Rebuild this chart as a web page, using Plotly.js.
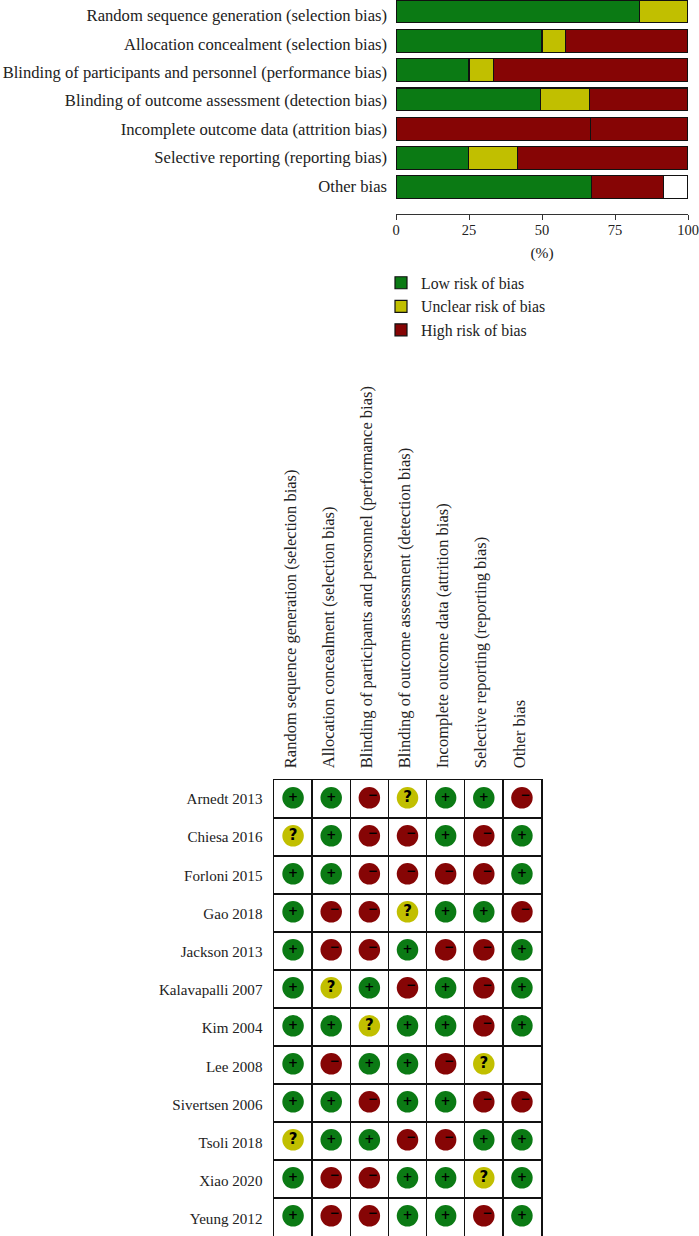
<!DOCTYPE html>
<html><head><meta charset="utf-8">
<script src="https://cdn.plot.ly/plotly-3.0.1.min.js"></script>
<style>html,body{margin:0;padding:0;background:#fff}</style></head>
<body><div id="chart" style="width:699px;height:1236px"></div>
<script>
const domains = ["Random sequence generation (selection bias)","Allocation concealment (selection bias)","Blinding of participants and personnel (performance bias)","Blinding of outcome assessment (detection bias)","Incomplete outcome data (attrition bias)","Selective reporting (reporting bias)","Other bias"];
const lowRisk = [83.3,50,25,49.5,66.5,24.7,66.9];
const unclearRisk = [16.7,8,8.3,16.8,null,17,null];
const highRisk = [null,42,66.7,33.7,33.5,58.3,24.8];
const noInfo = [null,null,null,null,null,null,8.3];
const studies = ["Arnedt 2013","Chiesa 2016","Forloni 2015","Gao 2018","Jackson 2013","Kalavapalli 2007","Kim 2004","Lee 2008","Sivertsen 2006","Tsoli 2018","Xiao 2020","Yeung 2012"];
const judgements = ["++-?++-","?+--+-+","++----+","+--?++-","+--+--+","+?+-+-+","++?++-+","+-++-? ","++-++--","?++--++","+--++?+","+--++-+"];
const GREEN="#0b7a14", YELLOW="#c1bf00", RED="#860505";
const INK="#222222";
const serif="'Liberation Serif', serif";
const W=699,H=1236;
const px=(a)=>a/W, py=(a)=>1-a/H;

const idx=domains.map((_,i)=>i);
const barLine={color:"#111",width:1.2};
const bar=(name,vals,color,extra)=>Object.assign({type:"bar",orientation:"h",name,x:vals,y:idx,xaxis:"x",yaxis:"y",
  marker:{color,line:barLine},hoverinfo:"x+name"},extra||{});
const lowColors=domains.map((d,i)=>i===4?RED:GREEN);
const traces=[
 bar("Low risk of bias",lowRisk,lowColors),
 bar("Unclear risk of bias",unclearRisk,YELLOW),
 bar("High risk of bias",highRisk,RED),
 bar("No information",noInfo,"#ffffff",{showlegend:false})
];

const cols={"+":{c:GREEN,g:"+"},"?":{c:YELLOW,g:"?"},"-":{c:RED,g:"−"}};
Object.keys(cols).forEach(k=>{
  const xs=[],ys=[],gx=[],gy=[];
  judgements.forEach((row,r)=>{[...row].forEach((v,c)=>{ if(v===k){xs.push(c);ys.push(r-0.03);
     gx.push(c+(k==="-"?0.09:0)); gy.push(r-0.03+(k==="-"?-0.06:0));}});});
  traces.push({type:"scatter",mode:"markers",x:xs,y:ys,xaxis:"x2",yaxis:"y2",showlegend:false,hoverinfo:"skip",
     marker:{size:21.5,color:cols[k].c,symbol:"circle"}});
  traces.push({type:"scatter",mode:"text",x:gx,y:gy,xaxis:"x2",yaxis:"y2",showlegend:false,hoverinfo:"skip",
     text:xs.map(()=>cols[k].g),textposition:"middle center",
     textfont:{family:"'DejaVu Sans', sans-serif",size:k==="?"?15:12,color:"#000",weight:700}});
});
const rowB=studies.map((_,i)=>i-0.5).concat([studies.length-0.5]);
const colB=domains.map((_,i)=>i-0.5).concat([domains.length-0.5]);
const layout={
 width:W,height:H,margin:{l:0,r:0,t:0,b:0},paper_bgcolor:"#fff",plot_bgcolor:"#fff",
 barmode:"stack",bargap:0.22,showlegend:true,
 font:{family:serif,color:INK,size:16.6},
 legend:{x:px(381),y:py(266),xanchor:"left",yanchor:"top",traceorder:"normal",font:{family:serif,size:15.8,color:INK},bgcolor:"rgba(0,0,0,0)",itemclick:false,itemdoubleclick:false},
 xaxis:{domain:[px(396),px(688)],range:[0,100],anchor:"y",tickvals:[0,25,50,75,100],ticks:"outside",ticklen:5,tickwidth:1,tickcolor:"#333",
   showline:true,linecolor:"#333",linewidth:1,showgrid:false,zeroline:false,ticklabelstandoff:-2,
   tickfont:{family:serif,size:14.5,color:INK},title:{text:"(%)",font:{family:serif,size:15.5,color:INK},standoff:9}},
 yaxis:{domain:[py(214),1],range:[6.91,-0.39],anchor:"x",tickmode:"array",tickvals:idx.map(i=>0.143+0.967*i),ticktext:domains,ticks:"",showline:false,showgrid:false,zeroline:false,
   ticklabelstandoff:8,tickfont:{family:serif,size:16.6,color:INK}},
 xaxis2:{domain:[px(274),px(541)],range:[-0.5,6.5],anchor:"y2",side:"top",tickmode:"array",tickvals:idx.map(i=>i-0.07),ticktext:domains,tickangle:-90,ticks:"",
   showgrid:false,zeroline:false,showline:true,mirror:true,linecolor:"#111",linewidth:1.5,ticklabelstandoff:7,
   minor:{tickmode:"array",tickvals:colB,showgrid:true,gridcolor:"#111",gridwidth:1.4,ticks:""},
   tickfont:{family:serif,size:16.5,color:INK}},
 yaxis2:{domain:[0,py(780)],range:[11.5,-0.5],anchor:"x2",tickmode:"array",tickvals:studies.map((_,i)=>i*1.005),ticktext:studies,ticks:"",
   showgrid:false,zeroline:false,showline:true,mirror:true,linecolor:"#111",linewidth:1.5,ticklabelstandoff:7,
   minor:{tickmode:"array",tickvals:rowB,showgrid:true,gridcolor:"#111",gridwidth:1.2,ticks:""},
   tickfont:{family:serif,size:15.1,color:INK}}
};
Plotly.newPlot("chart",traces,layout,{displayModeBar:false,staticPlot:true});
</script></body></html>
